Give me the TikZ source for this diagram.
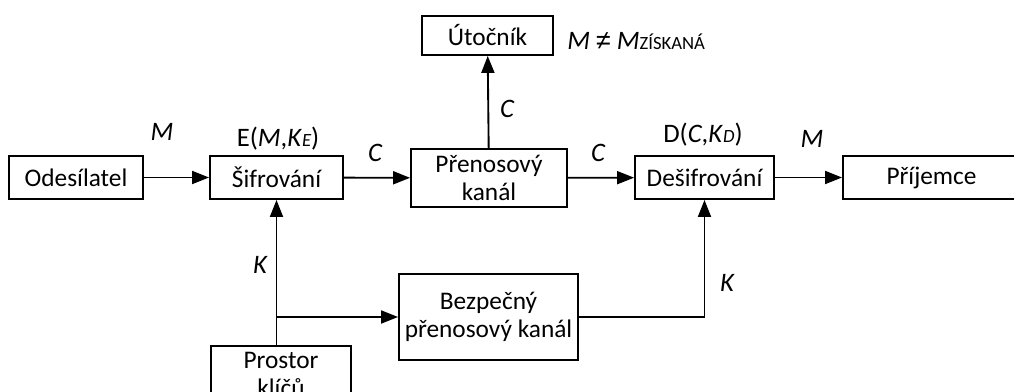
\documentclass[tikz,border=0pt]{standalone}
\usepackage{fontspec}
\setmainfont{Carlito}
\newfontfamily\relfont{Liberation Sans}
\usetikzlibrary{arrows.meta}
% small index letters sitting on the baseline
\newcommand\idx[1]{{\fontsize{14}{14}\selectfont #1}}
\begin{document}
\begin{tikzpicture}[x=0.75pt,y=-0.75pt,
  box/.style={draw, line width=1.4pt, align=center, inner sep=0pt,
              font=\fontsize{19}{21}\selectfont},
  flow/.style={line width=1.4pt, -{Triangle[length=12.75pt,width=9.75pt]}},
  lbl/.style={anchor=base, inner sep=0pt, font=\fontsize{20}{21}\selectfont}]
\useasboundingbox (0,0) rectangle (1014,392);

% blocks
\node[box, minimum width=100.5pt, minimum height=32.25pt] (odes) at (76,177.5) {Odesílatel};
\node[box, minimum width=99.75pt, minimum height=32.25pt] (sifr) at (276.5,177.5) {Šifrování};
\node[box, minimum width=117pt, minimum height=43.5pt] (pren) at (489,178) {Přenosový\\kanál};
\node[box, minimum width=98.25pt, minimum height=29.25pt] (utoc) at (487.5,35.5) {Útočník};
\node[box, minimum width=104.25pt, minimum height=32.25pt] (desif) at (704.5,177.5) {Dešifrování};
\node[box, minimum width=132.75pt, minimum height=32.25pt] (prij) at (931.5,177.5) {Příjemce};
\node[box, minimum width=134.25pt, minimum height=64.5pt] (bezp) at (488.5,317) {Bezpečný\\přenosový kanál};
\node[box, minimum width=105pt, minimum height=42pt] (prost) at (281,374) {Prostor\\klíčů};

% main message path
\draw[flow] (odes) -- (sifr);
\draw[flow] (sifr) -- (pren);
\draw[flow] (pren) -- (desif);
\draw[flow] (desif) -- (prij);
\draw[flow] (pren) -- (utoc);

% key distribution
\coordinate (ktop) at (sifr.south |- prost.north);
\coordinate (kj) at (sifr.south |- bezp.west);
\draw[flow] (ktop) -- (sifr.south);
\draw[flow] (kj) -- (bezp.west);
\draw[flow] (bezp.east) -| (desif.south);

% labels
\node[lbl] (lm1) at (162,141) {\itshape M};
\node[lbl] (le) at (278,147) {E(\textit{M},\textit{K}\idx{\itshape E})};
\node[lbl] (lc1) at (375,162) {\itshape C};
\node[lbl] (lc2) at (598,162) {\itshape C};
\node[lbl] (lc3) at (507,118) {\itshape C};
\node[lbl] (ld) at (703,143) {D(\textit{C},\textit{K}\idx{\itshape D})};
\node[lbl] (lm2) at (812,148) {\itshape M};
\node[lbl] (lk1) at (260,273) {\itshape K};
\node[lbl] (lk2) at (727,291) {\itshape K};
\node[lbl, anchor=base west] (lne) at (567,50)
  {\itshape M {\relfont\itshape ≠} M\idx{\upshape ZÍSKANÁ}};
\end{tikzpicture}
\end{document}
